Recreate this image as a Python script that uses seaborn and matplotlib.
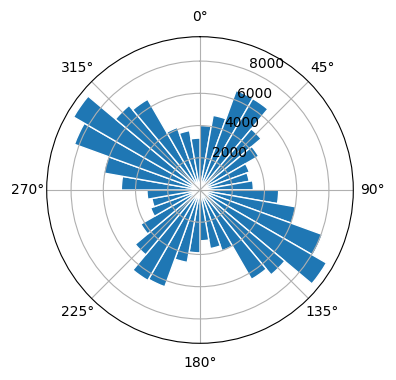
import numpy as np
import matplotlib
matplotlib.use("Agg")
import matplotlib.pyplot as plt
import seaborn as sns

# direction bins (degrees, left edge) and counts
bin_start_deg = list(range(0, 360, 10))
counts = [
    4000, 4700, 6570, 6550, 4950, 4200, 3260, 3100, 3310,   # 0-90
    4880, 6030, 8080, 9060, 6870, 6400, 4010, 3690, 3150,   # 90-180
    3900, 4560, 6390, 6480, 5250, 4240, 3260, 3030, 3290,   # 180-270
    4880, 6060, 8290, 9060, 6850, 6500, 4130, 3740, 3220,   # 270-360
]
bin_width_deg = 10

color = sns.color_palette("tab10")[0]

fig = plt.figure(figsize=(3.96, 3.80), dpi=100)
ax = fig.add_axes([46.7 / 396, (380 - 343.3) / 380, 306.6 / 396, 306.6 / 380],
                  projection="polar")
ax.set_theta_zero_location("N")
ax.set_theta_direction(-1)

theta = np.deg2rad(bin_start_deg)
ax.bar(theta, counts, width=np.deg2rad(bin_width_deg), align="edge",
       color=color, edgecolor="white", linewidth=1)
ax.set_yticks([2000, 4000, 6000, 8000])
ax.grid(True)

fig.savefig("out.png", dpi=100)
